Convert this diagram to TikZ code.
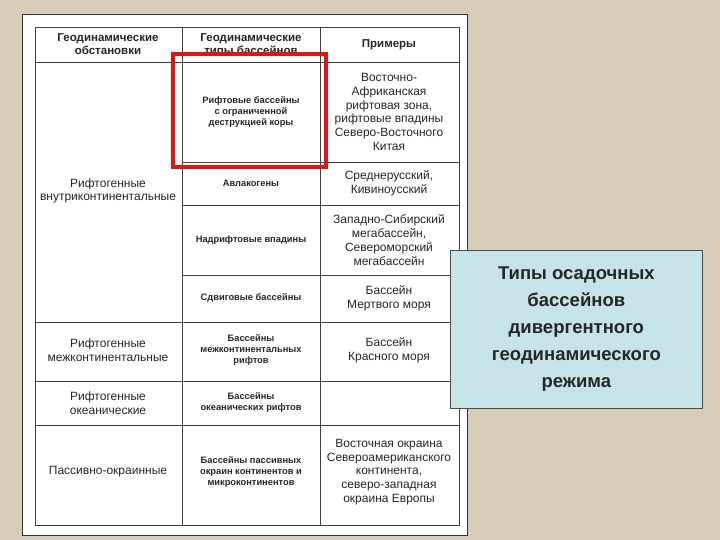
\documentclass[tikz,border=0pt]{standalone}
\usepackage{fontspec}
\setmainfont{Liberation Sans}
\begin{document}
\begin{tikzpicture}[x=1pt,y=-1pt,
  hd/.style={font=\fontsize{11.5}{12.5}\selectfont\bfseries,align=center,text=black!85},
  c1/.style={font=\fontsize{12}{13.5}\selectfont,align=center,text=black!85},
  c2/.style={font=\fontsize{9.3}{11}\selectfont\bfseries,align=center,text=black!85},
  c3/.style={font=\fontsize{12}{13.8}\selectfont,align=center,text=black!85},
  grid/.style={draw=black!75,line width=0.7pt}]
\fill[fill={rgb,255:red,216;green,205;blue,184}] (0,0) rectangle (720,540);
\useasboundingbox (0,0) rectangle (720,540);
\filldraw[fill=white,draw=black!80,line width=0.8pt] (22,14) rectangle (467,535);
% table lines
\draw[grid] (35,27) rectangle (459,525);
\draw[grid] (182,27) -- (182,525);
\draw[grid] (320,27) -- (320,525);
\draw[grid] (35,62) -- (459,62);
\draw[grid] (182,162) -- (459,162);
\draw[grid] (182,205) -- (459,205);
\draw[grid] (182,275) -- (459,275);
\draw[grid] (35,322) -- (459,322);
\draw[grid] (35,381) -- (459,381);
\draw[grid] (35,425) -- (459,425);
% header
\node[hd] (h1) at (108,44) {Геодинамические\\обстановки};
\node[hd] (h2) at (251,44) {Геодинамические\\типы бассейнов};
\node[hd] (h3) at (389,45) {Примеры};
% rows
\node[c1] (r1) at (108,191) {Рифтогенные\\внутриконтинентальные};
\node[c2] (b1) at (251,112) {Рифтовые бассейны\\с ограниченной\\деструкцией коры};
\node[c3] (e1) at (389,112) {Восточно-\\Африканская\\рифтовая зона,\\рифтовые впадины\\Северо-Восточного\\Китая};
\node[c2] (b2) at (251,183) {Авлакогены};
\node[c3] (e2) at (389,183) {Среднерусский,\\Кивиноусский};
\node[c2] (b3) at (251,240) {Надрифтовые впадины};
\node[c3] (e3) at (389,240) {Западно-Сибирский\\мегабассейн,\\Североморский\\мегабассейн};
\node[c2] (b4) at (251,298) {Сдвиговые бассейны};
\node[c3] (e4) at (389,298) {Бассейн\\Мертвого моря};
\node[c1] (r2) at (108,350) {Рифтогенные\\межконтинентальные};
\node[c2] (b5) at (251,350) {Бассейны\\межконтинентальных\\рифтов};
\node[c3] (e5) at (389,350) {Бассейн\\Красного моря};
\node[c1] (r3) at (108,403) {Рифтогенные\\океанические};
\node[c2] (b6) at (251,403) {Бассейны\\океанических рифтов};
\node[c1] (r4) at (108,472) {Пассивно-окраинные};
\node[c2] (b7) at (251,472) {Бассейны пассивных\\окраин континентов и\\микроконтинентов};
\node[c3] (e7) at (389,472) {Восточная окраина\\Североамериканского\\континента,\\северо-западная\\окраина Европы};
% red frame
\draw[draw={rgb,255:red,225;green,20;blue,20},line width=4pt] (173,54) rectangle (326,167);
% blue box
\node[draw=black!70,line width=0.7pt,fill={rgb,255:red,198;green,227;blue,232},minimum width=252pt,minimum height=158pt,anchor=north west,inner sep=0pt] (bx) at (450,250) {};
\node[font=\fontsize{18.5}{27}\selectfont\bfseries,align=center,text=black!85] (bt) at (bx.center) {Типы осадочных\\бассейнов\\дивергентного\\геодинамического\\режима};
\end{tikzpicture}
\end{document}
